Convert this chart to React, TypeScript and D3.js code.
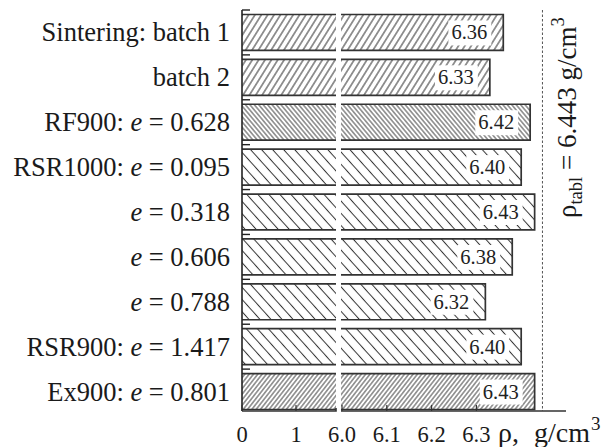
import React, { useEffect, useRef } from 'react';
import * as d3 from 'd3';

// row labels: prefix text + italic "e" value (null = no e)
const labelPrefix = ['Sintering: batch 1', 'batch 2', 'RF900: ', 'RSR1000: ', '', '', '', 'RSR900: ', 'Ex900: '];
const eValues = [null, null, '0.628', '0.095', '0.318', '0.606', '0.788', '1.417', '0.801'];
const densities = [6.36, 6.33, 6.42, 6.40, 6.43, 6.38, 6.32, 6.40, 6.43];
const hatchKind = ['fwd', 'fwd', 'backDense', 'back', 'back', 'back', 'back', 'back', 'fwdDense'];
const leftTicks = [0, 1];
const rightTicks = [6.0, 6.1, 6.2, 6.3];
const rhoTabl = 6.443;

const W = 608;
const H = 447;
const FONT = '"Liberation Serif", "Times New Roman", serif';

// hatch patterns: spacing (px, perpendicular), rotation (deg)
const hatchDefs = {
  fwd: { spacing: 5.4, angle: 32, width: 1 },
  fwdDense: { spacing: 3.4, angle: 38, width: 0.9 },
  backDense: { spacing: 3.4, angle: -40, width: 0.9 },
  back: { spacing: 8.2, angle: -42, width: 1 },
};

const App = () => {
  const svgRef = useRef();

  useEffect(() => {
    const svg = d3.select(svgRef.current);
    svg.selectAll('*').remove();
    svg.attr('width', W).attr('height', H);

    const axisX = 242;
    const axisY = 411;
    const breakL = 336;
    const breakR = 341;

    const xLeft = d3.scaleLinear().domain([0, 1]).range([axisX, 296]);
    const xRight = d3.scaleLinear().domain([6.0, 6.5]).range([342, 566]);
    const y = d3.scaleBand().domain(d3.range(densities.length)).range([10, 414]).padding(0);
    const bw = y.bandwidth();
    const barOff = bw * 0.1;
    const barH = bw * 0.8;

    const defs = svg.append('defs');
    Object.entries(hatchDefs).forEach(([k, h]) => {
      const p = defs.append('pattern')
        .attr('id', 'hatch-' + k)
        .attr('patternUnits', 'userSpaceOnUse')
        .attr('width', h.spacing)
        .attr('height', 10)
        .attr('patternTransform', `rotate(${h.angle})`);
      p.append('rect').attr('width', h.spacing).attr('height', 10).attr('fill', 'white');
      p.append('line')
        .attr('x1', h.spacing / 2).attr('x2', h.spacing / 2)
        .attr('y1', 0).attr('y2', 10)
        .attr('stroke', '#333').attr('stroke-width', h.width);
    });

    const g = svg.append('g');

    // dashed reference line
    g.append('line')
      .attr('x1', xRight(rhoTabl) + 2).attr('x2', xRight(rhoTabl) + 2)
      .attr('y1', 10).attr('y2', axisY)
      .attr('stroke', '#555').attr('stroke-width', 1)
      .attr('stroke-dasharray', '2.5,2');

    const bars = g.selectAll('g.bar')
      .data(densities.map((d, i) => ({ d, i })))
      .enter()
      .append('g')
      .attr('class', 'bar');

    // left segment
    bars.append('rect')
      .attr('x', axisX)
      .attr('y', (p) => y(p.i) + barOff)
      .attr('width', breakL - axisX)
      .attr('height', barH)
      .attr('fill', (p) => `url(#hatch-${hatchKind[p.i]})`);
    // right segment
    bars.append('rect')
      .attr('x', breakR)
      .attr('y', (p) => y(p.i) + barOff)
      .attr('width', (p) => xRight(p.d) - breakR)
      .attr('height', barH)
      .attr('fill', (p) => `url(#hatch-${hatchKind[p.i]})`);
    // borders
    bars.append('path')
      .attr('d', (p) => {
        const t = y(p.i) + barOff;
        const b = t + barH;
        const e = xRight(p.d);
        return `M${axisX},${t}H${breakL}M${axisX},${b}H${breakL}` +
          `M${breakR},${t}H${e}V${b}H${breakR}`;
      })
      .attr('fill', 'none')
      .attr('stroke', '#333')
      .attr('stroke-width', 1.7);

    // value labels with white box
    bars.each(function (p) {
      const sel = d3.select(this);
      const cy = y(p.i) + barOff + barH / 2;
      const box = sel.append('rect').attr('fill', 'white');
      const t = sel.append('text')
        .attr('x', xRight(p.d) - 16)
        .attr('y', cy + 7)
        .attr('text-anchor', 'end')
        .attr('font-family', FONT)
        .attr('font-size', 20.5)
        .attr('fill', '#222')
        .text(p.d.toFixed(2));
      const bb = t.node().getBBox();
      box.attr('x', bb.x - 3).attr('y', cy - 12).attr('width', bb.width + 7).attr('height', 25);
    });

    // row labels
    densities.forEach((_, i) => {
      const cy = y(i) + barOff + barH / 2;
      const t = g.append('text')
        .attr('x', 230)
        .attr('y', cy + 9)
        .attr('text-anchor', 'end')
        .attr('font-family', FONT)
        .attr('font-size', 26.5)
        .attr('fill', '#1a1a1a');
      t.append('tspan').text(labelPrefix[i]);
      if (eValues[i]) {
        t.append('tspan').attr('font-style', 'italic').text('e');
        t.append('tspan').text(' = ' + eValues[i]);
      }
    });

    // y axis line + band ticks
    g.append('line')
      .attr('x1', axisX).attr('x2', axisX)
      .attr('y1', 10).attr('y2', axisY)
      .attr('stroke', '#222').attr('stroke-width', 1.6);
    g.selectAll('line.ytick')
      .data(y.domain())
      .enter()
      .append('line')
      .attr('class', 'ytick')
      .attr('x1', axisX).attr('x2', axisX + 8)
      .attr('y1', (i) => y(i)).attr('y2', (i) => y(i))
      .attr('stroke', '#222').attr('stroke-width', 1.4);

    // x axis (broken)
    g.append('path')
      .attr('d', `M${axisX},${axisY}H${breakL}V${axisY - 3}M${breakR},${axisY}H${xRight(6.5)}`)
      .attr('fill', 'none')
      .attr('stroke', '#333').attr('stroke-width', 1.6);

    const tickData = [
      ...leftTicks.map((v) => ({ x: xLeft(v), label: String(v) })),
      ...rightTicks.map((v) => ({ x: xRight(v), label: v.toFixed(1) })),
    ];
    g.selectAll('line.xtick')
      .data(tickData)
      .enter()
      .append('line')
      .attr('class', 'xtick')
      .attr('x1', (d) => d.x).attr('x2', (d) => d.x)
      .attr('y1', axisY).attr('y2', axisY - 6)
      .attr('stroke', '#333').attr('stroke-width', 1.2);
    g.selectAll('text.xtick')
      .data(tickData)
      .enter()
      .append('text')
      .attr('class', 'xtick')
      .attr('x', (d) => d.x)
      .attr('y', 442)
      .attr('text-anchor', 'middle')
      .attr('font-family', FONT)
      .attr('font-size', 22.5)
      .attr('fill', '#1a1a1a')
      .text((d) => d.label);

    // x axis title
    const xt = g.append('text')
      .attr('x', 498)
      .attr('y', 442)
      .attr('font-family', FONT)
      .attr('font-size', 28)
      .attr('fill', '#1a1a1a');
    xt.append('tspan').text('ρ,');
    xt.append('tspan').attr('x', 534).text('g/cm');
    xt.append('tspan').attr('font-size', 19).attr('dy', -12).attr('dx', 1).text('3');

    // rotated rho_tabl label
    const rt = g.append('text')
      .attr('transform', 'translate(576,218) rotate(-90)')
      .attr('font-family', FONT)
      .attr('font-size', 27)
      .attr('fill', '#1a1a1a');
    rt.append('tspan').text('ρ');
    rt.append('tspan').attr('font-size', 18.5).attr('dy', 6).text('tabl');
    rt.append('tspan').attr('dy', -6).text(' = 6.443 g/cm');
    rt.append('tspan').attr('font-size', 18.5).attr('dy', -12).text('3');
  }, []);

  return (
    <svg
      ref={svgRef}
      style={{ position: 'absolute', left: 0, top: 0, background: 'white' }}
    ></svg>
  );
};

export default App;
